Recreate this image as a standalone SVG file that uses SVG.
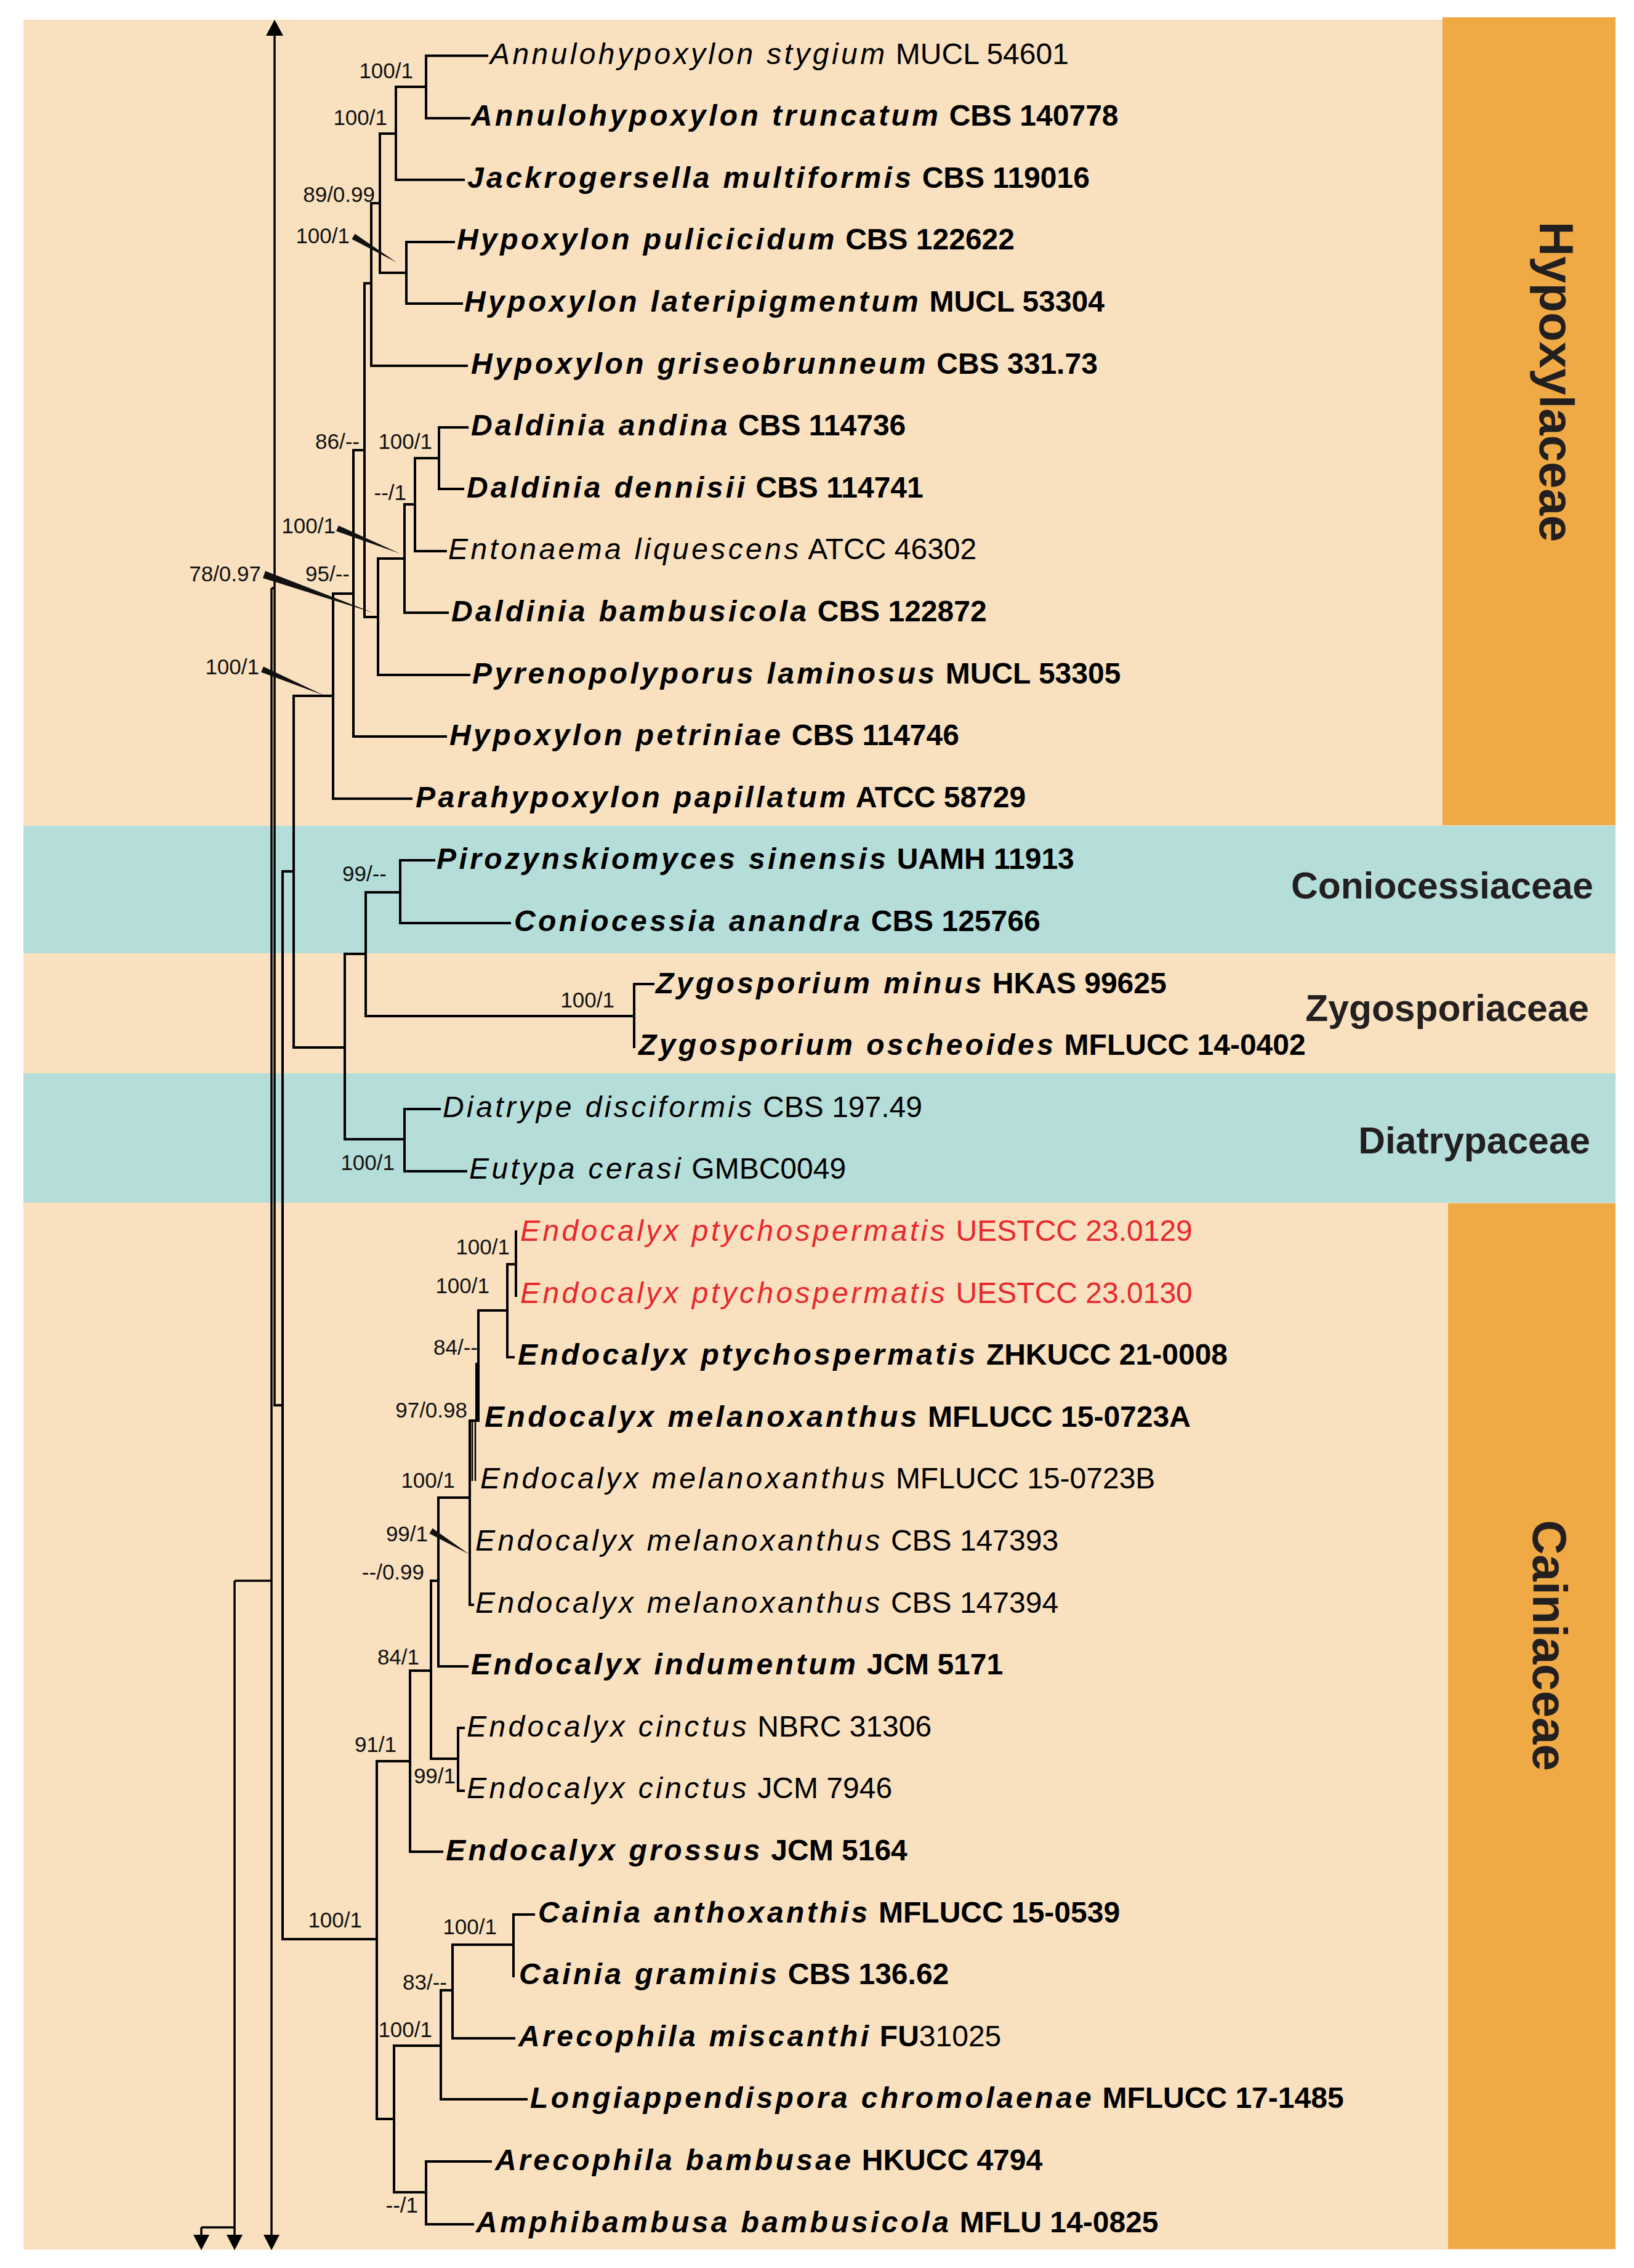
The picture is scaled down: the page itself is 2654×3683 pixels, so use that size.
<svg xmlns="http://www.w3.org/2000/svg" width="2654" height="3683" viewBox="0 0 2654 3683">
<style>
.bgp{fill:#F9E0BF}
.bgt{fill:#B5DDDA}
.bgo{fill:#EFA945}
.br{fill:none;stroke:#000;stroke-width:4;stroke-linecap:square}
.ar{fill:none;stroke:#000;stroke-width:3.5}
.tx{font-family:"Liberation Sans",Arial,sans-serif;font-size:48px;fill:#000}
.b{font-weight:bold}
.i{font-style:italic;letter-spacing:4.4px}
.red{fill:#E8282D}
.n{font-weight:normal}
.sup{font-family:"Liberation Sans",Arial,sans-serif;font-size:35px;fill:#111;text-anchor:end}
.fam{font-family:"Liberation Sans",Arial,sans-serif;font-weight:bold;font-size:60.5px;fill:#231F20;text-anchor:end}
.famv{font-family:"Liberation Sans",Arial,sans-serif;font-weight:bold;font-size:78px;fill:#231F20;text-anchor:middle}
</style>
<rect width="2654" height="3683" fill="#fff"/>
<g id="background">
<rect class="bgp" x="38" y="32" width="2586" height="3621"/>
<rect class="bgt" x="38" y="1341" width="2586" height="207"/>
<rect class="bgt" x="38" y="1743" width="2586" height="210"/>
<rect class="bgo" x="2343" y="28" width="281" height="1312"/>
<rect class="bgo" x="2352" y="1954" width="272" height="1698"/>
</g>
<g id="connectors">
<path class="br" d="M692,90.6 V192 M692,90.6 H791 M692,192 H762 M643,141 H692 M643,141 V292 M643,292 H753 M617,217 H643 M617,217 V443 M617,443 H660 M660,393 V493 M660,393 H737 M660,493 H750 M603,330 H617 M603,330 V594 M603,594 H758 M592,460 H603 M592,460 V1002 M592,1002 H614 M614,907 V1096 M614,907 H657 M614,1096 H762 M657,819 V995 M657,819 H674 M657,995 H727 M674,744 V895 M674,744 H713 M674,895 H724 M713,694 V794 M713,694 H759 M713,794 H752 M574,731 H592 M574,731 V1196 M574,1196 H724 M541,964 H574 M541,964 V1297 M541,1297 H668 M477,1130 H541 M477,1130 V1701 M477,1701 H560 M560,1549 V1850 M560,1549 H594 M560,1850 H657 M594,1449 V1650 M594,1449 H650 M594,1650 H1030 M650,1397 V1499 M650,1397 H705 M650,1499 H828 M1030,1598 V1700 M1030,1598 H1061 M657,1801 V1902 M657,1801 H714 M657,1902 H757 M459,1415 H477 M459,1415 V3149 M446,2282 H459 M459,3149 H612"/>
<path class="br" d="M612,2860 V3441 M612,2860 H666 M666,2713 V3007 M666,3007 H718 M666,2713 H700 M700,2567 V2856 M700,2567 H712 M700,2856 H744 M744,2806 V2908 M744,2806 H753 M744,2908 H753 M712,2432 V2706 M712,2706 H759 M712,2432 H763 M763,2307 V2606 M763,2606 H768 M763,2307 H777 M777,2128 V2307 M777,2128 H824 M824,2053 V2204 M824,2204 H834 M824,2053 H838 M838,2000 V2104 M612,3441 H640 M640,3322 V3560 M640,3322 H716 M716,3232 V3409 M716,3409 H855 M716,3232 H735 M735,3158 V3310 M735,3310 H835 M735,3158 H834 M834,3109 V3209 M834,3109 H867 M640,3560 H692 M692,3510 V3612 M692,3510 H797 M692,3612 H768"/>
<rect x="772" y="2213" width="7" height="92" fill="#000"/>
<path d="M767,2307 V2405 M772,2307 V2405" stroke="#000" stroke-width="2.5" fill="none"/>
<path class="ar" d="M446,55 V2282 M441,955 H446 M441,955 V3632 M381,2567 H441 M381,2567 V3632 M327,3617 H381 M327,3617 V3632"/>
<path d="M446,32 L432,58 L460,58 Z M441,3654 L428,3629 L454,3629 Z M381,3654 L368,3629 L394,3629 Z M327,3654 L314,3629 L340,3629 Z" fill="#000"/>
</g>
<g id="support">
<text class="sup" x="671" y="127">100/1</text>
<text class="sup" x="629" y="203">100/1</text>
<text class="sup" x="609" y="328">89/0.99</text>
<text class="sup" x="568" y="395">100/1</text>
<polygon points="571.4,388.3 576.6,379.7 644,426" fill="#111"/>
<text class="sup" x="584" y="729">86/--</text>
<text class="sup" x="702" y="729">100/1</text>
<text class="sup" x="660" y="812">--/1</text>
<text class="sup" x="545" y="866">100/1</text>
<polygon points="546.1,862.6 549.9,853.4 650,899" fill="#111"/>
<text class="sup" x="568" y="944">95/--</text>
<text class="sup" x="424" y="944">78/0.97</text>
<polygon points="427,938.7 431,927.3 606,995" fill="#111"/>
<text class="sup" x="421" y="1095">100/1</text>
<polygon points="424.1,1091.6 427.9,1082.4 526,1129" fill="#111"/>
<text class="sup" x="628" y="1431">99/--</text>
<text class="sup" x="998" y="1636">100/1</text>
<text class="sup" x="641" y="1900">100/1</text>
<text class="sup" x="828" y="2037">100/1</text>
<text class="sup" x="795" y="2100">100/1</text>
<text class="sup" x="776" y="2200">84/--</text>
<text class="sup" x="759" y="2302">97/0.98</text>
<text class="sup" x="739" y="2416">100/1</text>
<text class="sup" x="695" y="2503">99/1</text>
<polygon points="697.4,2490.3 702.6,2481.7 762,2524" fill="#111"/>
<text class="sup" x="689" y="2565">--/0.99</text>
<text class="sup" x="681" y="2703">84/1</text>
<text class="sup" x="644" y="2845">91/1</text>
<text class="sup" x="740" y="2896">99/1</text>
<text class="sup" x="588" y="3130">100/1</text>
<text class="sup" x="807" y="3141">100/1</text>
<text class="sup" x="726" y="3231">83/--</text>
<text class="sup" x="702" y="3308">100/1</text>
<text class="sup" x="679" y="3593">--/1</text>
</g>
<g id="taxa">
<g id="t00"><text class="tx" x="796" y="103.6"><tspan class="i">Annulohypoxylon stygium</tspan> MUCL 54601</text></g>
<g id="t01"><text class="tx b" x="765" y="204.2"><tspan class="i">Annulohypoxylon truncatum</tspan> CBS 140778</text></g>
<g id="t02"><text class="tx b" x="759" y="304.8"><tspan class="i">Jackrogersella multiformis</tspan> CBS 119016</text></g>
<g id="t03"><text class="tx b" x="742" y="405.4"><tspan class="i">Hypoxylon pulicicidum</tspan> CBS 122622</text></g>
<g id="t04"><text class="tx b" x="754" y="506"><tspan class="i">Hypoxylon lateripigmentum</tspan> MUCL 53304</text></g>
<g id="t05"><text class="tx b" x="765" y="606.6"><tspan class="i">Hypoxylon griseobrunneum</tspan> CBS 331.73</text></g>
<g id="t06"><text class="tx b" x="765" y="707.2"><tspan class="i">Daldinia andina</tspan> CBS 114736</text></g>
<g id="t07"><text class="tx b" x="758" y="807.8"><tspan class="i">Daldinia dennisii</tspan> CBS 114741</text></g>
<g id="t08"><text class="tx" x="728" y="908.4"><tspan class="i">Entonaema liquescens</tspan> ATCC 46302</text></g>
<g id="t09"><text class="tx b" x="733" y="1009"><tspan class="i">Daldinia bambusicola</tspan> CBS 122872</text></g>
<g id="t10"><text class="tx b" x="767" y="1109.6"><tspan class="i">Pyrenopolyporus laminosus</tspan> MUCL 53305</text></g>
<g id="t11"><text class="tx b" x="730" y="1210.2"><tspan class="i">Hypoxylon petriniae</tspan> CBS 114746</text></g>
<g id="t12"><text class="tx b" x="675" y="1310.8"><tspan class="i">Parahypoxylon papillatum</tspan> ATCC 58729</text></g>
<g id="t13"><text class="tx b" x="709" y="1411.4"><tspan class="i">Pirozynskiomyces sinensis</tspan> UAMH 11913</text></g>
<g id="t14"><text class="tx b" x="835" y="1512"><tspan class="i">Coniocessia anandra</tspan> CBS 125766</text></g>
<g id="t15"><text class="tx b" x="1065" y="1612.6"><tspan class="i">Zygosporium minus</tspan> HKAS 99625</text></g>
<g id="t16"><text class="tx b" x="1037" y="1713.2"><tspan class="i">Zygosporium oscheoides</tspan> MFLUCC 14-0402</text></g>
<g id="t17"><text class="tx" x="719" y="1813.8"><tspan class="i">Diatrype disciformis</tspan> CBS 197.49</text></g>
<g id="t18"><text class="tx" x="762" y="1914.4"><tspan class="i">Eutypa cerasi</tspan> GMBC0049</text></g>
<g id="t19"><text class="tx red" x="845" y="2015"><tspan class="i">Endocalyx ptychospermatis</tspan> UESTCC 23.0129</text></g>
<g id="t20"><text class="tx red" x="845" y="2115.6"><tspan class="i">Endocalyx ptychospermatis</tspan> UESTCC 23.0130</text></g>
<g id="t21"><text class="tx b" x="841" y="2216.2"><tspan class="i">Endocalyx ptychospermatis</tspan> ZHKUCC 21-0008</text></g>
<g id="t22"><text class="tx b" x="787" y="2316.8"><tspan class="i">Endocalyx melanoxanthus</tspan> MFLUCC 15-0723A</text></g>
<g id="t23"><text class="tx" x="780" y="2417.4"><tspan class="i">Endocalyx melanoxanthus</tspan> MFLUCC 15-0723B</text></g>
<g id="t24"><text class="tx" x="772" y="2518"><tspan class="i">Endocalyx melanoxanthus</tspan> CBS 147393</text></g>
<g id="t25"><text class="tx" x="772" y="2618.6"><tspan class="i">Endocalyx melanoxanthus</tspan> CBS 147394</text></g>
<g id="t26"><text class="tx b" x="765" y="2719.2"><tspan class="i">Endocalyx indumentum</tspan> JCM 5171</text></g>
<g id="t27"><text class="tx" x="758" y="2819.8"><tspan class="i">Endocalyx cinctus</tspan> NBRC 31306</text></g>
<g id="t28"><text class="tx" x="758" y="2920.4"><tspan class="i">Endocalyx cinctus</tspan> JCM 7946</text></g>
<g id="t29"><text class="tx b" x="724" y="3021"><tspan class="i">Endocalyx grossus</tspan> JCM 5164</text></g>
<g id="t30"><text class="tx b" x="874" y="3121.6"><tspan class="i">Cainia anthoxanthis</tspan> MFLUCC 15-0539</text></g>
<g id="t31"><text class="tx b" x="843" y="3222.2"><tspan class="i">Cainia graminis</tspan> CBS 136.62</text></g>
<g id="t32"><text class="tx b" x="842" y="3322.8"><tspan class="i">Arecophila miscanthi</tspan> FU<tspan class="n">31025</tspan></text></g>
<g id="t33"><text class="tx b" x="861" y="3423.4"><tspan class="i">Longiappendispora chromolaenae</tspan> MFLUCC 17-1485</text></g>
<g id="t34"><text class="tx b" x="804" y="3524"><tspan class="i">Arecophila bambusae</tspan> HKUCC 4794</text></g>
<g id="t35"><text class="tx b" x="773" y="3624.6"><tspan class="i">Amphibambusa bambusicola</tspan> MFLU 14-0825</text></g>
</g>
<g id="families">
<g id="fam-hypoxylaceae"><text class="famv" transform="translate(2501,620) rotate(90)">Hypoxylaceae</text></g>
<g id="fam-coniocessiaceae"><text class="fam" x="2588" y="1459">Coniocessiaceae</text></g>
<g id="fam-zygosporiaceae"><text class="fam" x="2581" y="1658">Zygosporiaceae</text></g>
<g id="fam-diatrypaceae"><text class="fam" x="2583" y="1873">Diatrypaceae</text></g>
<g id="fam-cainiaceae"><text class="famv" transform="translate(2490,2672) rotate(90)">Cainiaceae</text></g>
</g>
</svg>
